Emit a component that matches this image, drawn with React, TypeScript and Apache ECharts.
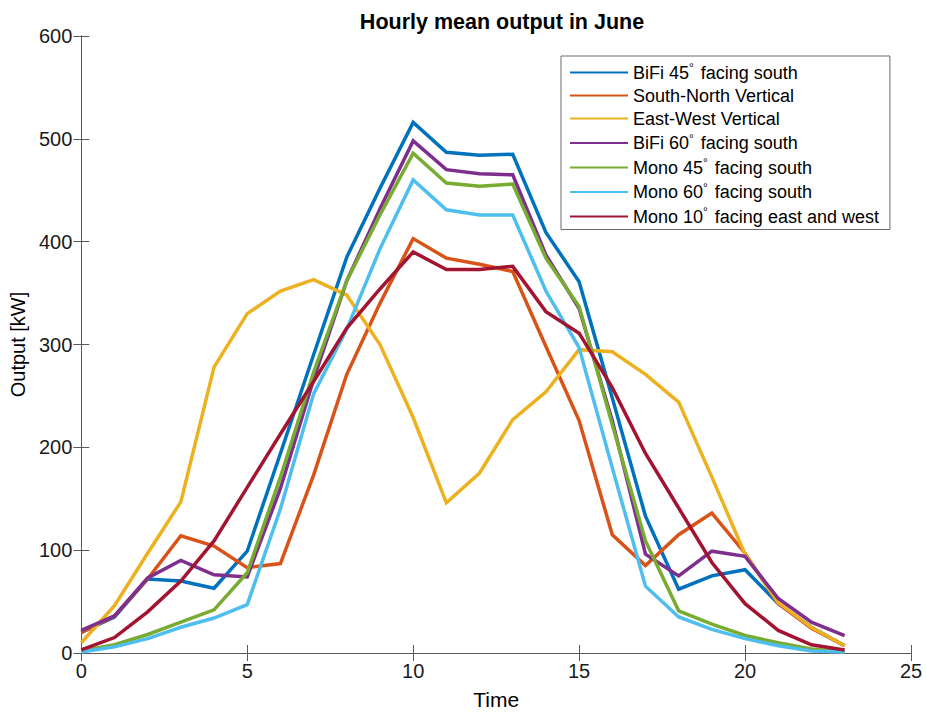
import React, { useEffect, useRef } from "react";
import * as echarts from "echarts";

const hours = [0, 1, 2, 3, 4, 5, 6, 7, 8, 9, 10, 11, 12, 13, 14, 15, 16, 17, 18, 19, 20, 21, 22, 23];

const bifi45 = [20, 35, 72, 70, 63, 99, 194, 290, 385, 452, 516, 487, 484, 485, 409, 361, 248, 133, 62, 75, 81, 48, 25, 7];
const southNorth = [20, 36, 72, 114, 104, 83, 87, 173, 271, 340, 403, 384, 378, 371, 298, 226, 115, 85, 115, 136, 97, 48, 24, 7];
const eastWest = [10, 46, 97, 147, 278, 330, 352, 363, 348, 300, 229, 146, 175, 227, 254, 295, 293, 271, 244, 171, 96, 49, 25, 7];
const bifi60 = [22, 36, 73, 90, 76, 74, 160, 266, 362, 432, 498, 470, 466, 465, 387, 335, 226, 96, 75, 99, 94, 53, 30, 17];
const mono45 = [2, 8, 18, 30, 42, 78, 171, 273, 362, 426, 486, 457, 454, 456, 384, 337, 222, 109, 41, 28, 17, 10, 4, 1];
const mono60 = [1, 6, 14, 25, 34, 47, 140, 252, 315, 393, 460, 431, 426, 426, 352, 297, 180, 65, 35, 23, 14, 7, 2, 1];
const mono10 = [3, 15, 40, 70, 109, 161, 213, 264, 316, 354, 390, 373, 373, 376, 332, 311, 258, 194, 141, 88, 48, 22, 8, 3];

const seriesNames = [
  "BiFi 45° facing south",
  "South-North Vertical",
  "East-West Vertical",
  "BiFi 60° facing south",
  "Mono 45° facing south",
  "Mono 60° facing south",
  "Mono 10° facing east and west",
];
const seriesValues = [bifi45, southNorth, eastWest, bifi60, mono45, mono60, mono10];
const colors = ["#0072BD", "#D95319", "#EDB120", "#7E2F8E", "#77AC30", "#4DBEEE", "#A2142F"];

const FONT = "Liberation Sans, Arial, Helvetica, sans-serif";
const AXIS_COLOR = "#5a5a5a";

export default function App() {
  const ref = useRef<HTMLDivElement>(null);
  useEffect(() => {
    document.body.style.margin = "0";
    const chart = echarts.init(ref.current!, undefined, { renderer: "svg" });
    const baseAxis = {
      axisLine: { show: true, lineStyle: { color: AXIS_COLOR, width: 1 } },
      axisTick: { show: true, inside: true, length: 8, lineStyle: { color: AXIS_COLOR } },
      splitLine: { show: false },
    };
    chart.setOption({
      animation: false,
      backgroundColor: "#ffffff",
      title: {
        text: "Hourly mean output in June",
        left: 497,
        textAlign: "center",
        top: 6,
        textStyle: { fontFamily: FONT, fontSize: 21.5, fontWeight: "bold", color: "#000" },
      },
      grid: { left: 81, right: 15, top: 36, bottom: 57, containLabel: false },
      legend: {
        orient: "vertical",
        left: 561,
        top: 56,
        padding: [6, 11, 4, 8],
        itemGap: 5,
        itemWidth: 58,
        itemHeight: 18,
        backgroundColor: "#ffffff",
        borderColor: "#6a6a6a",
        borderWidth: 1,
        itemStyle: { opacity: 0 },
        formatter: (name: string) => name.replace("°", "{s|°}"),
        textStyle: {
          fontFamily: FONT,
          fontSize: 18,
          color: "#000",
          rich: {
            s: { fontFamily: FONT, fontSize: 12, verticalAlign: "bottom", padding: [0, 2, 9, 0], color: "#000" },
          },
        },
        data: seriesNames,
      },
      xAxis: [
        {
          ...baseAxis,
          type: "value",
          min: 0,
          max: 25,
          interval: 5,
          name: "Time",
          nameLocation: "middle",
          nameGap: 36,
          nameTextStyle: { fontFamily: FONT, fontSize: 21, color: "#000" },
          axisLabel: { fontFamily: FONT, fontSize: 20, color: "#1a1a1a", margin: 8 },
        },
        {
          ...baseAxis,
          type: "value",
          position: "top",
          min: 0,
          max: 25,
          interval: 5,
          axisLabel: { show: false },
        },
      ],
      yAxis: [
        {
          ...baseAxis,
          type: "value",
          min: 0,
          max: 600,
          interval: 100,
          name: "Output [kW]",
          nameLocation: "middle",
          nameGap: 50,
          nameTextStyle: { fontFamily: FONT, fontSize: 20, color: "#000" },
          axisLabel: { fontFamily: FONT, fontSize: 20, color: "#1a1a1a", margin: 9 },
        },
        {
          ...baseAxis,
          type: "value",
          position: "right",
          min: 0,
          max: 600,
          interval: 100,
          axisLabel: { show: false },
        },
      ],
      series: seriesNames.map((name, i) => ({
        name,
        type: "line",
        xAxisIndex: 0,
        yAxisIndex: 0,
        symbol: "none",
        color: colors[i],
        lineStyle: { color: colors[i], width: 3.5, join: "miter" },
        data: hours.map((h, j) => [h, seriesValues[i][j]]),
      })),
    });
    return () => chart.dispose();
  }, []);
  return <div ref={ref} style={{ width: 926, height: 715 }} />;
}
